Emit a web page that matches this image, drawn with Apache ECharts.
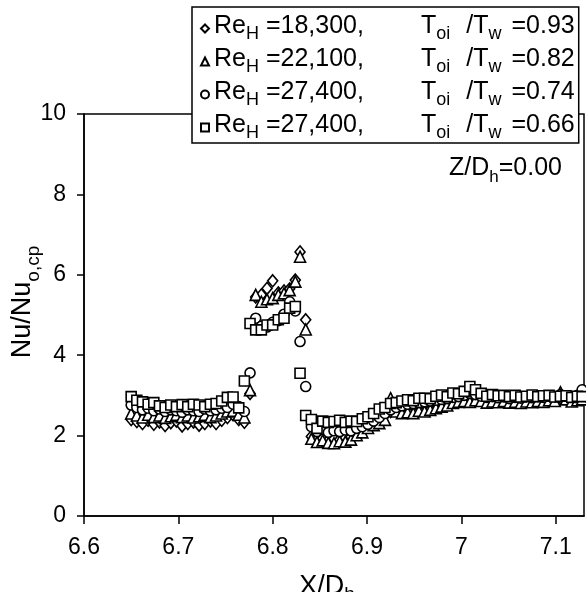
<!DOCTYPE html>
<html>
<head>
<meta charset="utf-8">
<script src="https://cdn.jsdelivr.net/npm/echarts@6/dist/echarts.min.js"></script>
<style>
  html, body { margin: 0; padding: 0; background: #fff; }
  #chart { width: 586px; height: 592px; }
</style>
</head>
<body>
<div id="chart"></div>
<script>
// Streamwise stations X/D_h (shared by all four runs)
const xPos = [
  6.650, 6.656, 6.662, 6.668, 6.674, 6.680, 6.686, 6.692, 6.698, 6.704,
  6.710, 6.716, 6.722, 6.728, 6.734, 6.740, 6.746, 6.752, 6.758, 6.764,
  6.770,
  6.776, 6.782, 6.788, 6.794, 6.800, 6.806, 6.812, 6.818, 6.824, 6.829,
  6.835,
  6.841, 6.847, 6.853, 6.859, 6.865, 6.871, 6.877, 6.883, 6.889, 6.895,
  6.901, 6.907, 6.913, 6.919, 6.925, 6.931, 6.937, 6.943, 6.949, 6.955,
  6.961, 6.967, 6.973, 6.979, 6.985, 6.991, 6.997, 7.003, 7.009, 7.015,
  7.021, 7.027, 7.033, 7.039, 7.045, 7.051, 7.057, 7.063, 7.069, 7.075,
  7.081, 7.087, 7.093, 7.099, 7.105, 7.111, 7.117, 7.123, 7.128
];

// Re_H = 18,300, Toi/Tw = 0.93 (diamonds)
const nuRe18300 = [
  2.40, 2.35, 2.30, 2.38, 2.28, 2.34, 2.25, 2.32, 2.36, 2.24,
  2.30, 2.34, 2.26, 2.30, 2.36, 2.30, 2.38, 2.45, 2.52, 2.40,
  2.33,
  3.05, 5.45, 5.50, 5.66, 5.85, 5.55, 5.60, 5.65, 5.87, 6.57,
  4.88,
  1.98, 1.90, 1.94, 1.88, 1.92, 1.90, 1.95, 1.97, 2.05, 2.12,
  2.22, 2.30, 2.40, 2.50, 2.60, 2.66, 2.70, 2.72, 2.74, 2.76,
  2.78, 2.80, 2.82, 2.85, 2.87, 2.90, 2.92, 2.94, 2.96, 2.93,
  2.90, 2.88, 2.90, 2.87, 2.89, 2.86, 2.88, 2.86, 2.89, 2.87,
  2.90, 2.88, 2.91, 2.89, 2.94, 2.92, 2.90, 2.93, 2.95
];

// Re_H = 22,100, Toi/Tw = 0.82 (triangles)
const nuRe22100 = [
  2.55, 2.50, 2.45, 2.52, 2.46, 2.50, 2.44, 2.48, 2.52, 2.46,
  2.50, 2.45, 2.48, 2.52, 2.46, 2.50, 2.55, 2.60, 2.62, 2.52,
  2.45,
  3.13, 5.50, 5.33, 5.39, 5.42, 5.50, 5.54, 5.62, 5.83, 6.45,
  4.64,
  1.92, 1.84, 1.88, 1.82, 1.81, 1.86, 1.85, 1.90, 2.01, 2.08,
  2.19, 2.26, 2.31, 2.39, 2.93, 2.60, 2.56, 2.58, 2.56, 2.62,
  2.60, 2.64, 2.68, 2.72, 2.75, 2.81, 2.84, 2.86, 2.84, 2.88,
  2.86, 2.82, 2.85, 2.83, 2.86, 2.82, 2.84, 2.81, 2.85, 2.83,
  2.86, 2.84, 2.88, 2.86, 3.08, 2.90, 2.85, 2.88, 2.90
];

// Re_H = 27,400, Toi/Tw = 0.74 (circles)
const nuRe27400a = [
  2.76, 2.70, 2.64, 2.68, 2.62, 2.66, 2.60, 2.64, 2.62, 2.58,
  2.64, 2.62, 2.60, 2.66, 2.62, 2.64, 2.68, 2.70, 2.78, 2.72,
  2.60,
  3.56, 4.92, 4.72, 4.70, 4.82, 4.86, 5.02, 5.33, 5.10, 4.34,
  3.22,
  2.22, 2.10, 2.15, 2.08, 2.12, 2.10, 2.14, 2.12, 2.18, 2.22,
  2.28, 2.36, 2.45, 2.55, 2.64, 2.70, 2.74, 2.78, 2.80, 2.82,
  2.84, 2.86, 2.88, 2.90, 2.92, 2.95, 2.97, 3.00, 3.05, 3.02,
  2.98, 2.95, 2.97, 2.94, 2.96, 2.92, 2.95, 2.93, 2.96, 2.94,
  2.97, 2.95, 2.98, 2.96, 3.02, 2.99, 2.97, 3.00, 3.14
];

// Re_H = 27,400, Toi/Tw = 0.66 (squares)
const nuRe27400b = [
  2.97, 2.88, 2.84, 2.78, 2.82, 2.74, 2.70, 2.76, 2.72, 2.77,
  2.72, 2.78, 2.76, 2.72, 2.78, 2.80, 2.86, 2.95, 2.96, 2.69,
  3.36,
  4.79, 4.63, 4.63, 4.75, 4.75, 4.88, 4.92, 5.17, 5.21, 3.55,
  2.50,
  2.40, 2.18, 2.36, 2.33, 2.35, 2.38, 2.33, 2.36, 2.35, 2.42,
  2.47, 2.55, 2.66, 2.70, 2.80, 2.82, 2.86, 2.89, 2.87, 2.93,
  2.93, 2.92, 2.98, 3.01, 2.97, 3.06, 3.04, 3.10, 3.22, 3.14,
  3.05, 2.98, 3.02, 2.99, 3.00, 2.97, 3.00, 2.96, 2.98, 3.01,
  2.97, 2.99, 3.00, 2.96, 2.98, 2.99, 2.95, 2.98, 2.97
];

const runNames = ['Re18300', 'Re22100', 'Re27400a', 'Re27400b'];
const runValues = [nuRe18300, nuRe22100, nuRe27400a, nuRe27400b];
const runSymbols = ['diamond', 'triangle', 'circle', 'rect'];
const runSizes = [[10, 12], 11, 10, 10];
const runReynolds = ['18,300', '22,100', '27,400', '27,400'];
const runTempRatio = ['0.93', '0.82', '0.74', '0.66'];

const FONT = '"Liberation Sans", Arial, Helvetica, sans-serif';
const INK = '#000';

// Rich-text styles: main text hugs the top of the line, subscripts sit at its bottom
function mainStyle(size, lh, extra) {
  return Object.assign({ fontSize: size, fontFamily: FONT, color: INK, lineHeight: lh, verticalAlign: 'top' }, extra || {});
}
function subStyle(size, lh, extra) {
  return Object.assign({ fontSize: size, fontFamily: FONT, color: INK, lineHeight: lh, verticalAlign: 'bottom' }, extra || {});
}

// One legend line: Re_H =..., T_oi /T_w =...
function legendLine(k) {
  return '{t|Re}{s|H}{n|=' + runReynolds[k] + ',}{t|T}{s|oi}{m|/T}{s|w}{e|=' + runTempRatio[k] + '}';
}
const legendRich = {
  t: mainStyle(25, 29),
  n: mainStyle(25, 29, { padding: [0, 57, 0, 7] }),
  m: mainStyle(25, 29, { padding: [0, 0, 0, 16] }),
  e: mainStyle(25, 29, { padding: [0, 0, 0, 10] }),
  s: subStyle(18, 29)
};

const chart = echarts.init(document.getElementById('chart'), null, { renderer: 'canvas' });

const series = runNames.map((name, k) => ({
  name: name,
  type: 'scatter',
  symbol: runSymbols[k],
  symbolSize: runSizes[k],
  clip: false,
  itemStyle: { color: '#fff', borderColor: INK, borderWidth: 1.6, opacity: 1 },
  emphasis: { disabled: true },
  data: xPos.map((x, i) => [x, runValues[k][i]])
}));

chart.setOption({
  animation: false,
  backgroundColor: '#fff',
  grid: {
    left: 84, right: 2, top: 114, bottom: 76,
    outerBoundsMode: 'none',
    containLabel: false,
    show: true, borderColor: INK, borderWidth: 1.5, backgroundColor: 'transparent'
  },
  xAxis: {
    type: 'value', min: 6.6, max: 7.13, interval: 0.1,
    name: '{t|X/D}{s|h}', nameLocation: 'middle', nameGap: 57, nameMoveOverlap: false,
    nameTextStyle: {
      color: INK, fontFamily: FONT, fontSize: 27, padding: [0, 14, 0, 0],
      rich: { t: mainStyle(27, 31), s: subStyle(19, 31) }
    },
    axisLine: { show: true, onZero: false, lineStyle: { color: INK, width: 1.5 } },
    axisTick: { show: true, length: 8, lineStyle: { color: INK, width: 1.5 } },
    axisLabel: {
      color: INK, fontFamily: FONT, fontSize: 23, margin: 20, showMaxLabel: false,
      formatter: v => String(+v.toFixed(1))
    },
    splitLine: { show: false }
  },
  yAxis: {
    type: 'value', min: 0, max: 10, interval: 2,
    name: '{t|Nu/Nu}{s|o,cp}', nameLocation: 'middle', nameGap: 41, nameRotate: 90, nameMoveOverlap: false,
    nameTextStyle: {
      color: INK, fontFamily: FONT, fontSize: 27, padding: [0, 0, 0, 26],
      rich: { t: mainStyle(27, 34), s: subStyle(19, 34) }
    },
    axisLine: { show: true, lineStyle: { color: INK, width: 1.5 } },
    axisTick: { show: true, length: 7, lineStyle: { color: INK, width: 1.5 } },
    axisLabel: { color: INK, fontFamily: FONT, fontSize: 23, margin: 18 },
    splitLine: { show: false }
  },
  legend: {
    orient: 'vertical',
    left: 192, top: 7,
    backgroundColor: '#fff',
    borderColor: INK, borderWidth: 1.5, borderRadius: 0,
    padding: [7, 4, 1, 8],
    itemGap: 4,
    itemWidth: 8, itemHeight: 8,
    selectedMode: false,
    data: runNames,
    formatter: name => legendLine(runNames.indexOf(name)),
    textStyle: { color: INK, fontFamily: FONT, fontSize: 25, rich: legendRich }
  },
  graphic: [{
    type: 'text',
    right: 24, top: 156,
    z: 10,
    style: {
      text: '{t|Z/D}{s|h}{t|=0.00}',
      fontFamily: FONT, fontSize: 25, fill: INK,
      rich: {
        t: { fontSize: 25, fontFamily: FONT, fill: INK, lineHeight: 30, verticalAlign: 'top' },
        s: { fontSize: 17, fontFamily: FONT, fill: INK, lineHeight: 30, verticalAlign: 'bottom' }
      }
    }
  }],
  series: series
});
</script>
</body>
</html>
